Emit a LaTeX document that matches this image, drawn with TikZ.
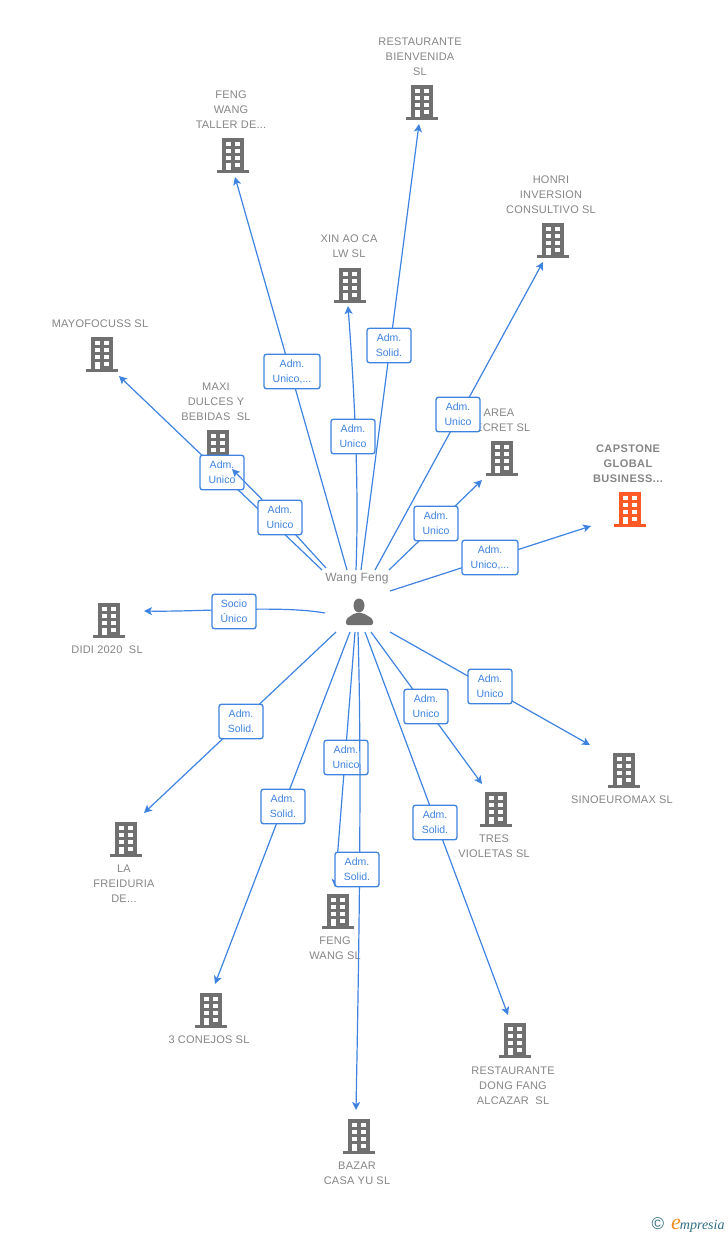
\documentclass[tikz,border=0pt]{standalone}
\usepackage{fontspec}
\setmainfont{Liberation Sans}
\newfontfamily\logofont{Liberation Serif}
\usetikzlibrary{arrows.meta}
\definecolor{linkblue}{HTML}{3E83E0}
\definecolor{greytext}{HTML}{858585}
\definecolor{greyicon}{HTML}{707070}
\definecolor{orangeicon}{HTML}{FF5A26}
\definecolor{logoteal}{HTML}{2F6F85}
\definecolor{logoorange}{HTML}{F28A1E}
\tikzset{
  firm/.style={font=\fontsize{11}{15}\selectfont\addfontfeatures{LetterSpace=2},text=greytext,align=center,inner sep=0pt},
  link/.style={draw=linkblue,line width=1.2pt,-{Stealth[length=8pt,width=8pt,inset=2pt]}},
  role/.style={draw=linkblue,line width=1.3pt,rounded corners=2.5pt,fill=white,
    font=\fontsize{10.5}{15}\selectfont,text=linkblue,align=center,inner sep=0pt,minimum height=34.5pt,
    execute at begin node={\rule{0pt}{10pt}}},
  building/.pic={
    \fill[pic actions] (-11,-17) rectangle (11,15);
    \fill[pic actions] (-16,15) rectangle (16,17.5);
    \foreach \wy in {-13,-6,1} {
      \fill[white] (-7,\wy) rectangle (-2,\wy+4);
      \fill[white] (2,\wy) rectangle (7,\wy+4);
    }
    \fill[white] (2,8) rectangle (7,12);
    \fill[white] (-7,8) rectangle (-2,15);
  }
}
\begin{document}
\begin{tikzpicture}[x=1pt,y=-1pt]
  \useasboundingbox (0,0) rectangle (728,1235);

  % companies
  \foreach \bx/\by in {422/102,233/155,350/285,553/240,102/354,218/447,502/458,109/620,126/839,
                       211/1010,338/911,359/1136,515/1040,496/809,624/770}
    \pic[fill=greyicon] at (\bx,\by) {building};
  \pic[fill=orangeicon] at (630,509) {building};

  \node[firm] (bienvenida) at (420,57) {RESTAURANTE\\BIENVENIDA\\SL};
  \node[firm] (taller) at (231,110) {FENG\\WANG\\TALLER DE...};
  \node[firm] (xinao) at (349,246.5) {XIN AO CA\\LW SL};
  \node[firm] (honri) at (551,195) {HONRI\\INVERSION\\CONSULTIVO SL};
  \node[firm] (mayo) at (100,324) {MAYOFOCUSS SL};
  \node[firm] (maxi) at (216,402) {MAXI\\DULCES Y\\BEBIDAS\ \ SL};
  \node[firm] (area) at (499,420.5) {AREA\\SECRET SL};
  \node[firm,font=\fontsize{11}{15}\selectfont\bfseries\addfontfeatures{LetterSpace=4}] (capstone) at (628,464) {CAPSTONE\\GLOBAL\\BUSINESS...};
  \node[firm] (didi) at (107,650) {DIDI 2020\ \ SL};
  \node[firm] (freiduria) at (124,884) {LA\\FREIDURIA\\DE...};
  \node[firm] (conejos) at (209,1040) {3 CONEJOS SL};
  \node[firm] (fengsl) at (335,948.5) {FENG\\WANG SL};
  \node[firm] (bazar) at (357,1173.5) {BAZAR\\CASA YU SL};
  \node[firm] (dongfang) at (513,1086) {RESTAURANTE\\DONG FANG\\ALCAZAR\ \ SL};
  \node[firm] (tres) at (494,846.5) {TRES\\VIOLETAS SL};
  \node[firm] (sino) at (622,800) {SINOEUROMAX SL};

  % links, in this order because they overlap
  \foreach \n/\sx/\sy/\lx/\ly/\ex/\ey/\bw/\txt in {
      bienv/361/570/389/345.5/419/124/44/{Adm.\\Solid.},
      tall/347/570/292/371.5/235/177/56/{Adm.\\Unico,...},
      hon/375/570/458/414.5/543/262/44/{Adm.\\Unico},
      sec/389/570/436/523.5/482/480/44/{Adm.\\Unico},
      cap/390/591/490/557.5/591/526/56/{Adm.\\Unico,...},
      may/322/570/222/472.5/119/376/44/{Adm.\\Unico},
      freid/336/632/241/721.5/144/813/44/{Adm.\\Solid.},
      con/350/632/283/806.5/215/984/44/{Adm.\\Solid.},
      fen/355/632/346/757.5/335/887/44/{Adm.\\Unico},
      dong/365/632/435/822.5/508/1015/44/{Adm.\\Solid.},
      tre/371/632/426/706.5/482/784/44/{Adm.\\Unico},
      sin/390/632/490/686.5/590/745/44/{Adm.\\Unico}} {
    \coordinate (from\n) at (\sx,\sy);
    \coordinate (to\n) at (\ex,\ey);
    \draw[link] (from\n) -- (to\n);
    \node[role,minimum width=\bw pt] (lab\n) at (\lx,\ly) {\txt};
  }

  \coordinate (frombaz) at (358,632);
  \coordinate (tobaz) at (356,1110);
  \draw[link] (frombaz) .. controls (362,770) and (359,950) .. (tobaz);
  \node[role,minimum width=44pt] (labbaz) at (357,869.5) {Adm.\\Solid.};

  \coordinate (fromxin) at (356,570);
  \coordinate (toxin) at (348,306);
  \draw[link] (fromxin) .. controls (359,490) and (355,400) .. (toxin);
  \node[role,minimum width=44pt] (labxin) at (353,436.5) {Adm.\\Unico};

  \coordinate (fromdidi) at (325,613);
  \coordinate (todidi) at (144,611);
  \draw[link] (fromdidi) .. controls (280,605) and (200,612) .. (todidi);
  \node[role,minimum width=44pt] (labdidi) at (234,611.5) {Socio\\Único};

  \coordinate (frommaxi) at (326,568);
  \coordinate (tomaxi) at (232,469);
  \draw[draw=linkblue,line width=1.2pt] (frommaxi) -- (280,517.5);
  \node[role,minimum width=44pt] (labmaxi) at (280,517.5) {Adm.\\Unico};
  \draw[link] (labmaxi) -- (tomaxi);

  % person
  \node[firm,font=\fontsize{12}{15}\selectfont\addfontfeatures{LetterSpace=2}] (wang) at (357,579) {Wang Feng};
  \fill[greyicon] (359,605.5) ellipse (5.5 and 7);
  \fill[greyicon,rounded corners=2pt] (346,625) -- (346,619) -- (355,613) -- (363,613) -- (373,619) -- (373,625) -- cycle;

  % logo
  \node[inner sep=0pt,text=logoteal,font=\fontsize{17}{17}\selectfont] (copy) at (658,1224) {©};
  \node[inner sep=0pt,anchor=base west,text=logoteal,font=\logofont\itshape\fontsize{14}{14}\selectfont] (logo) at (671,1229)
    {{\color{logoorange}\fontsize{22}{22}\selectfont e}\hspace{-1pt}mpresia};
\end{tikzpicture}
\end{document}
